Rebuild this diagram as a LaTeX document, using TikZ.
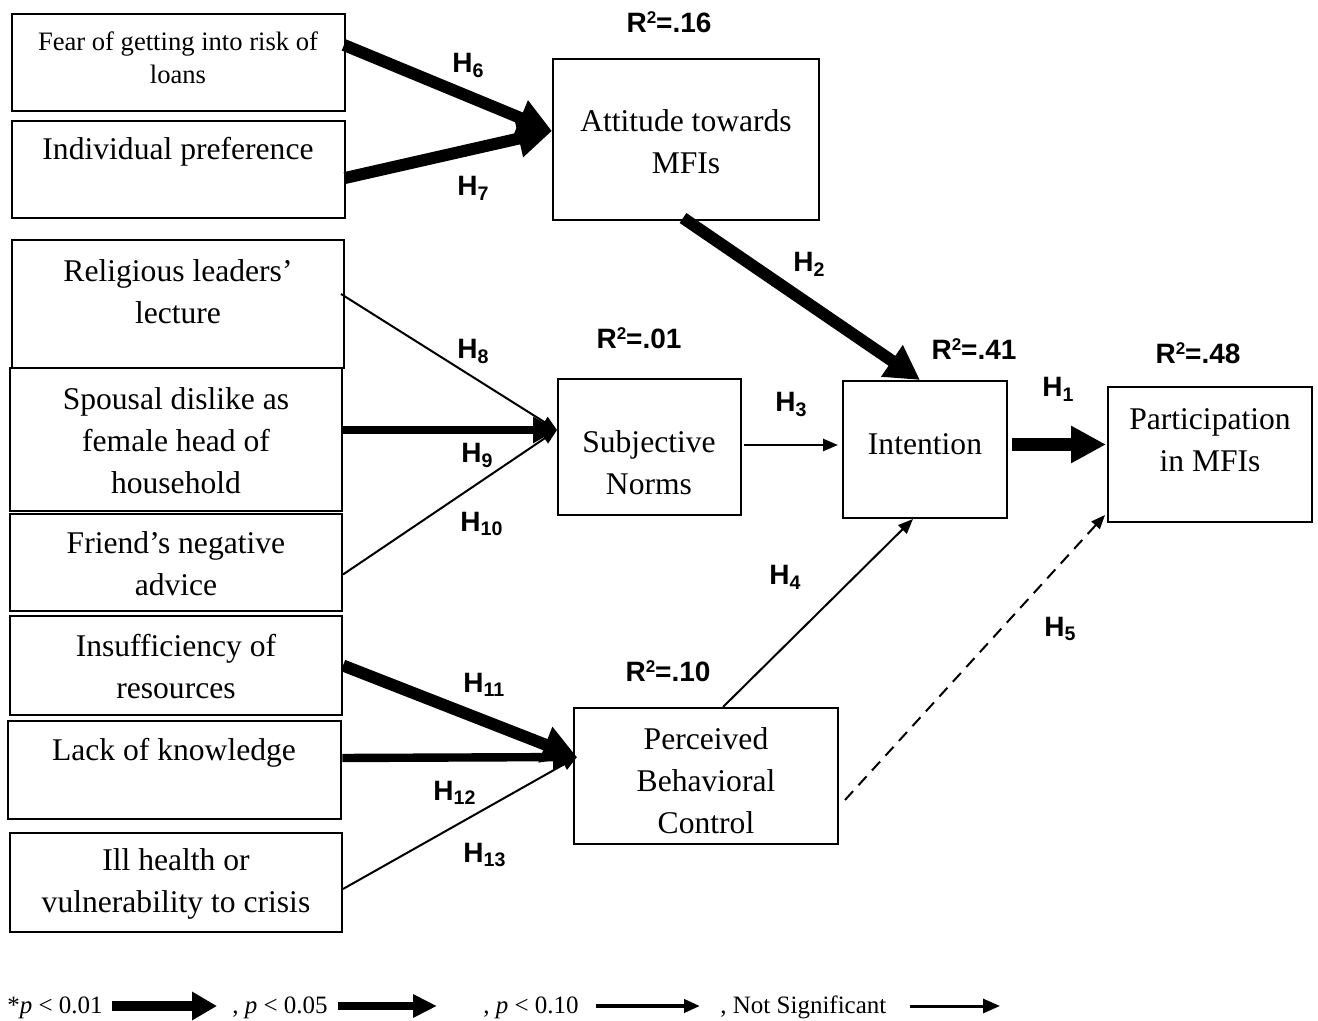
\documentclass[tikz,border=0pt]{standalone}
\usepackage{fontspec}
\setmainfont{Liberation Serif}
\setsansfont{Liberation Sans}
\usetikzlibrary{arrows.meta,calc}

% small raised "2" for the R-squared labels
\newcommand{\rsqtwo}{\raisebox{0.62ex}{\fontsize{8.5}{9}\selectfont 2}}

\begin{document}
\begin{tikzpicture}[x=0.5pt,y=-0.5pt,
  box/.style={draw, line width=1pt, rectangle, inner sep=0pt},
  txt/.style={align=center, inner sep=0pt, font=\fontsize{15.8}{21}\selectfont},
  smalltxt/.style={align=center, inner sep=0pt, font=\fontsize{13.3}{16.5}\selectfont},
  lbl/.style={inner sep=0pt, anchor=base west, font=\sffamily\bfseries\fontsize{14}{16}\selectfont},
  rsq/.style={inner sep=0pt, anchor=base, font=\sffamily\bfseries\fontsize{14}{16}\selectfont},
  legtxt/.style={inner sep=0pt, anchor=base west, font=\fontsize{12.5}{15}\selectfont},
  % path strengths
  strong/.style={line width=6pt, -{Triangle[length=17pt,width=18pt]}},
  strongest/.style={line width=6.3pt, -{Triangle[length=17.5pt,width=17.5pt]}},
  medium/.style={line width=4.2pt, -{Triangle[length=12pt,width=12.5pt]}},
  weak/.style={line width=1.3pt, -{Triangle[length=7.5pt,width=6pt]}},
  thin/.style={line width=1pt, -{Triangle[length=7.5pt,width=6pt]}},
  nonsig/.style={line width=1pt, dash pattern=on 6pt off 4pt, -{Triangle[length=7pt,width=5.5pt]}}
]
\useasboundingbox (0,0) rectangle (1318,1021);

% ---- antecedent boxes (left column)
\node[box, minimum width=166.5pt, minimum height=48.5pt] (fear) at (178.5,62.5) {};
\node[smalltxt] (fear-t) at (178,58) {Fear of getting into risk of\\loans};

\node[box, minimum width=166.5pt, minimum height=48.5pt] (indiv) at (178.5,169.5) {};
\node[txt] (indiv-t) at (178,152) {Individual preference};

\node[box, minimum width=166pt, minimum height=64pt] (relig) at (178,304) {};
\node[txt] (relig-t) at (178,292) {Religious leaders’\\lecture};

\node[box, minimum width=166pt, minimum height=71.5pt] (spouse) at (176,439.5) {};
\node[txt] (spouse-t) at (176,441) {Spousal dislike as\\female head of\\household};

\node[box, minimum width=166pt, minimum height=48.5pt] (friend) at (176,562.5) {};
\node[txt] (friend-t) at (176,564) {Friend’s negative\\advice};

\node[box, minimum width=166pt, minimum height=49.5pt] (insuff) at (176,665.5) {};
\node[txt] (insuff-t) at (176,667) {Insufficiency of\\resources};

\node[box, line width=1.4pt, minimum width=166.5pt, minimum height=49pt] (lack) at (174.5,770) {};
\node[txt] (lack-t) at (174,753) {Lack of knowledge};

\node[box, minimum width=166pt, minimum height=49.5pt] (ill) at (176,882.5) {};
\node[txt] (ill-t) at (176,884) {Ill health or\\vulnerability to crisis};

% ---- constructs
\node[box, minimum width=133pt, minimum height=80.5pt] (att) at (686,139.5) {};
\node[txt] (att-t) at (686,142) {Attitude towards\\MFIs};

\node[box, minimum width=91.5pt, minimum height=68pt] (sn) at (649.5,447) {};
\node[txt] (sn-t) at (649,463) {Subjective\\Norms};

\node[box, minimum width=82pt, minimum height=68.5pt] (int) at (925,449.5) {};
\node[txt] (int-t) at (925,444) {Intention};

\node[box, minimum width=102pt, minimum height=67.5pt] (part) at (1210,454.5) {};
\node[txt] (part-t) at (1210,440) {Participation\\in MFIs};

\node[box, minimum width=132pt, minimum height=68pt] (pbc) at (706,776) {};
\node[txt] (pbc-t) at (706,781) {Perceived\\Behavioral\\Control};

% ---- explained variance
\node[rsq] (r-att) at (669,33) {R\rsqtwo=.16};
\node[rsq] (r-sn) at (639,349) {R\rsqtwo=.01};
\node[rsq] (r-int) at (974,360) {R\rsqtwo=.41};
\node[rsq] (r-part) at (1198,364) {R\rsqtwo=.48};
\node[rsq] (r-pbc) at (668,682) {R\rsqtwo=.10};

% ---- paths
\draw[strong] ([xshift=-1pt,yshift=8.75pt]fear.east) -- ([yshift=4.25pt]att.west);
\draw[strong] ([xshift=-0.5pt,yshift=-4.25pt]indiv.east) -- ([yshift=4.25pt]att.west);
\draw[strong] ([xshift=-1.5pt,yshift=1.5pt]att.south) -- ([xshift=-2.5pt]int.north);
\draw[thin] ([xshift=-2pt,yshift=5pt]relig.east) -- ([yshift=8.5pt]sn.west);
\draw[medium] ([yshift=4.75pt]spouse.east) -- ([yshift=8.5pt]sn.west);
\draw[thin] ([yshift=-6pt]friend.east) -- ([yshift=8.5pt]sn.west);
\draw[weak] ([xshift=1pt,yshift=1pt]sn.east) -- ([xshift=-2pt,yshift=2.25pt]int.west);
\draw[strongest] ([xshift=2pt,yshift=2.5pt]int.east) -- ([xshift=-0.5pt,yshift=5pt]part.west);
\draw[thin] ([xshift=8.5pt]pbc.north) -- ([xshift=-6pt]int.south);
\draw[nonsig] ([xshift=3pt,yshift=-12pt]pbc.east) -- ([xshift=-1pt,yshift=4pt]part.south west);
\draw[strong] (insuff.east) -- ([xshift=2pt,yshift=9.5pt]pbc.west);
\draw[medium] ([yshift=6pt]lack.east) -- ([xshift=2pt,yshift=9.5pt]pbc.west);
\draw[thin] ([yshift=-3.25pt]ill.east) -- ([xshift=2pt,yshift=9.5pt]pbc.west);

% ---- hypothesis labels
\node[lbl] (h6) at (452,73) {H\textsubscript{6}};
\node[lbl] (h7) at (457,196) {H\textsubscript{7}};
\node[lbl] (h2) at (793,272) {H\textsubscript{2}};
\node[lbl] (h8) at (457,359) {H\textsubscript{8}};
\node[lbl] (h9) at (461,463) {H\textsubscript{9}};
\node[lbl] (h10) at (460,531) {H\textsubscript{10}};
\node[lbl] (h3) at (775,412) {H\textsubscript{3}};
\node[lbl] (h1) at (1042,397) {H\textsubscript{1}};
\node[lbl] (h4) at (769,585) {H\textsubscript{4}};
\node[lbl] (h5) at (1044,636) {H\textsubscript{5}};
\node[lbl] (h11) at (463,692) {H\textsubscript{11}};
\node[lbl] (h12) at (433,800) {H\textsubscript{12}};
\node[lbl] (h13) at (463,862) {H\textsubscript{13}};

% ---- legend
\node[legtxt] (leg1) at (7,1013) {*\textit{p} < 0.01};
\node[legtxt] (leg2) at (232,1013) {, \textit{p} < 0.05};
\node[legtxt] (leg3) at (483,1013) {, \textit{p} < 0.10};
\node[legtxt] (leg4) at (720,1013) {, Not Significant};
\coordinate (la1) at (112,1006); \coordinate (lb1) at (217,1006);
\coordinate (la2) at (338,1006); \coordinate (lb2) at (437,1006);
\coordinate (la3) at (596,1006); \coordinate (lb3) at (700,1006);
\coordinate (la4) at (910,1006); \coordinate (lb4) at (1000,1006);
\draw[line width=5pt, -{Triangle[length=12.5pt,width=13.5pt]}] (la1) -- (lb1);
\draw[line width=4pt, -{Triangle[length=12pt,width=11pt]}] (la2) -- (lb2);
\draw[line width=2pt, -{Triangle[length=8pt,width=6.5pt]}] (la3) -- (lb3);
\draw[line width=1.5pt, -{Triangle[length=8.5pt,width=7pt]}] (la4) -- (lb4);
\end{tikzpicture}
\end{document}
